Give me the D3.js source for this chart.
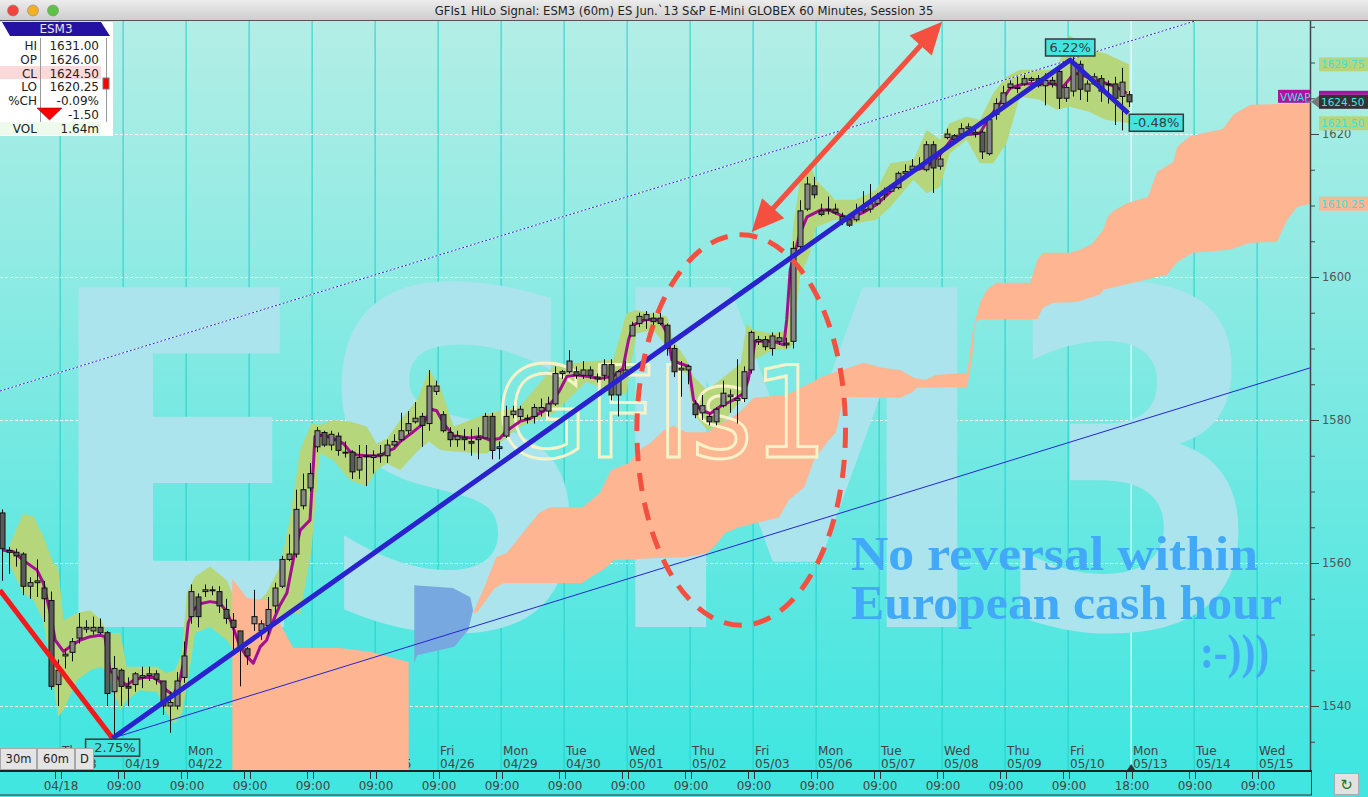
<!DOCTYPE html>
<html><head><meta charset="utf-8">
<script src="https://cdn.jsdelivr.net/npm/d3@7"></script>
<style>
html,body{margin:0;padding:0;background:#fff;overflow:hidden}
svg{display:block;font-family:"DejaVu Sans",sans-serif}
</style></head>
<body><svg id="chart" width="1368" height="797"></svg>
<script>
// ESM3 60 minute bars, 9 bars per session (09:00 - 18:00)
const ohlc = [
[1567,1567.5,1557.5,1562],[1561.75,1562.25,1558.5,1561.5],[1561.5,1562,1559.5,1561],[1561.25,1561.5,1555.5,1556.75],
[1556.75,1558,1555,1557.25],[1557.25,1560.5,1555.25,1557.5],[1556.5,1557.5,1551.75,1555],[1554.75,1556,1542.25,1542.75],
[1543,1546.5,1540,1545],[1547,1548,1545.25,1547.25],[1547.5,1549.5,1546.25,1549],[1549.5,1553,1548.75,1551],
[1550.75,1552,1550.25,1551],[1550.5,1552.5,1550,1551],[1551,1552.25,1550,1550.25],[1550.25,1550.5,1540,1541.75],
[1542,1547,1535.5,1545.25],[1545,1545.25,1540,1542.75],[1542.75,1544,1540,1542.5],[1543,1544.75,1542,1544.5],
[1544,1545.5,1542.5,1544.25],[1544.25,1545.5,1543.5,1544.5],[1544.5,1545,1543,1543.75],[1543.5,1543.5,1538.75,1540],
[1540,1542,1536.25,1540.5],[1540,1544.75,1539.5,1543.5],[1544,1549,1543.25,1547],[1552.5,1557,1551.5,1556],
[1555.25,1555.75,1551,1552.5],[1556,1557,1555.25,1556.25],[1556.25,1556.75,1555.5,1556.25],[1556,1556.75,1553,1554],
[1553.5,1555,1551.5,1552.25],[1552,1553,1547.75,1551],[1550.5,1550.5,1542.75,1548],[1548,1548.25,1545.75,1547],
[1551.5,1556.25,1550.5,1552.5],[1550.5,1552,1549.25,1551.5],[1551.25,1555.25,1550,1553.5],[1554,1557.25,1553,1556.5],
[1556.75,1561,1556.5,1560.5],[1560.5,1564,1560.25,1561.25],[1561.25,1570.25,1560.75,1567.5],[1568,1572.5,1567.5,1570.25],
[1570.5,1574,1570,1572.5],[1576.25,1579,1575.5,1578.5],[1578.25,1578.5,1576.25,1576.5],[1576.5,1578.5,1575.75,1578],
[1577.75,1578.25,1575,1575.75],[1575.5,1577,1574.75,1575.5],[1575.5,1575.75,1571.75,1572.75],[1573,1576.5,1571.75,1574.75],
[1575,1576.5,1570.75,1575],[1574.75,1575.75,1572.5,1575],[1575,1576.5,1574,1575.25],[1575,1577.25,1574,1576.5],
[1576.5,1578,1576.25,1577],[1577.25,1581,1577,1578.5],[1578.5,1581.25,1578,1579.5],[1579.75,1582.5,1579.5,1580.25],
[1580.5,1581,1576.25,1579.25],[1579.5,1587,1578.5,1584.75],[1584,1585.5,1583.5,1584.75],[1580.75,1581.25,1578.25,1578.5],
[1578.25,1579,1576.25,1577.25],[1577.25,1578.5,1576.25,1577.75],[1577.5,1578.75,1575.75,1577.25],[1577,1578.75,1575,1576.75],
[1577.25,1579,1574.5,1577.5],[1577.5,1581,1577.5,1580.5],[1580.5,1581,1574.5,1575.75],[1576,1577,1574.5,1576.25],
[1577.75,1582,1577.5,1580.5],[1580.75,1582,1580.25,1581.25],[1580.5,1582,1580,1581.5],[1580.25,1580.75,1579.5,1580.25],
[1580.5,1582.25,1579.5,1581.75],[1581.25,1583,1580.5,1581.75],[1581.25,1583.25,1580.5,1582.25],[1582.25,1587.5,1582,1586.5],
[1586.5,1587,1585.75,1586.75],[1586.75,1589.75,1586.5,1588.25],[1586.75,1587.5,1585.75,1586.25],[1586.25,1588.25,1585.75,1587],
[1587,1587.5,1585.75,1586.25],[1586,1586.5,1585.25,1585.75],[1586.25,1588.5,1585.5,1587.75],[1587.75,1588.5,1582.75,1583.5],
[1583.5,1587,1580.5,1586.75],[1586.5,1588.25,1586,1587],[1591.75,1593.75,1591.75,1593.25],[1593.5,1595,1593,1594.5],
[1594,1595.25,1592.75,1594.75],[1594.25,1595,1592.75,1593.75],[1594.25,1595,1593.25,1593.5],[1593.25,1593.5,1589,1590],
[1590,1590.5,1586,1586.75],[1587,1588.25,1583.25,1587.25],[1587,1587.75,1585,1587.5],[1582.25,1582.75,1580.25,1580.75],
[1581,1583.5,1580,1582],[1580.5,1581,1579.25,1579.75],[1579.75,1581.75,1579.25,1581.5],[1582,1585.5,1581.75,1583.75],
[1583.25,1584.25,1581,1583.5],[1582.75,1588.5,1579.5,1583],[1583,1587.5,1582.5,1586.75],[1587,1592.5,1586.5,1592.25],
[1591,1591.75,1590.5,1591.25],[1591.25,1591.75,1589.75,1590.25],[1590,1592.25,1589,1591.75],[1591,1592.25,1590.5,1591.5],
[1590.75,1591.5,1590,1590.5],[1591,1605,1590,1604],[1604.25,1610.75,1604,1609.25],[1609.5,1614,1609.25,1613],
[1612.75,1614,1611,1611.5],[1609.25,1610.25,1608.5,1608.75],[1609.5,1611.25,1608.75,1609.5],[1609.5,1610.25,1608.75,1609],
[1608.5,1609,1607.25,1608],[1608,1608.5,1607,1607.25],[1608,1610.25,1607.75,1609],[1609.25,1612,1609,1609.5],
[1609.5,1613,1609,1610.25],[1610.25,1611.75,1610,1611],[1611.5,1612.5,1610.75,1612],[1612,1612.75,1612,1612.5],
[1612.5,1614.75,1612.25,1614.5],[1614.5,1615.75,1614,1614.75],[1615,1616.5,1614.75,1615.5],[1615.25,1616.75,1615,1615.5],
[1615,1619,1614.75,1618.5],[1618.5,1619,1611.75,1615.25],[1615.5,1617,1615,1616.5],[1619.5,1620.75,1619.25,1620],
[1619.75,1620,1619,1619.25],[1620,1621.5,1619.75,1620.75],[1620.75,1621.5,1620.5,1621],[1620.25,1620.75,1619.5,1620],
[1620.25,1620.5,1616.5,1617.5],[1617.25,1622.5,1617,1622],[1622.75,1625,1622,1624.25],[1624.25,1626.75,1623.75,1625.75],
[1626.5,1627.5,1626.25,1627],[1626.5,1628,1625.75,1626.5],[1627,1628.25,1626.75,1627.75],[1627.5,1628,1627.25,1627.75],
[1627.75,1628.25,1626.5,1626.75],[1626.75,1628.5,1624,1627.5],[1627.5,1628,1626.5,1627],[1628.75,1629,1623.5,1625],
[1625,1627,1624.5,1626.5],[1626,1630.75,1625.25,1630],[1629.75,1630.25,1624.75,1626.25],[1626,1627.5,1624.5,1627],
[1627,1628.5,1626.75,1628],[1627.75,1628.25,1624.5,1626],[1627,1627.5,1624.25,1627],[1627,1628,1621.25,1625],
[1625.25,1629.25,1620.5,1627.25],[1625.5,1626,1623.75,1624.5]
];

// magenta average line  [bar, price]
const avgLine = [
[0,1561.8],[1.6,1561.6],[3,1560.4],[5,1559],[5.9,1557.2],[6.9,1553],[7.6,1549.2],[8.8,1547.6],[9.7,1548.3],[11.1,1549.2],
[12.6,1549.7],[14,1549.9],[14.7,1549.7],[15.4,1545],[16.9,1543.6],[17.8,1542.9],[18.8,1543.6],[20.2,1544],[21.6,1544],
[22.6,1543.4],[23.5,1542.2],[24.5,1541.5],[25.4,1543.6],[26.1,1546.9],[26.6,1551.6],[27.3,1553.4],[28.3,1554.3],[29.7,1554.6],
[31.1,1554.4],[32.1,1553.2],[32.8,1551.6],[34,1548.3],[35,1546.9],[35.9,1546],[36.9,1548.3],[37.8,1549.2],[38.8,1552],
[39.7,1554.1],[40.7,1555.8],[41.6,1560.4],[42.6,1564.6],[44,1566],[44.5,1573.9],[44.7,1577.7],[45.9,1577.9],[47.3,1577.4],
[48.8,1576.7],[49.7,1575.6],[50.7,1575.1],[52.1,1575],[54,1575],[55,1575.6],[56,1576],[56.9,1577],[58.8,1578.4],[60.2,1579.5],
[61.4,1581.5],[62.1,1581.3],[63.1,1579.5],[64.5,1577.8],[66.9,1577.5],[68.3,1577.7],[69.7,1577.2],[71.1,1577.4],[72.1,1578.5],
[74,1579.8],[75.4,1580.2],[77.3,1581.2],[78.8,1582.8],[79.7,1584.2],[80.7,1586.1],[82.1,1586.3],[83.5,1586.1],[85.4,1585.8],
[87.3,1586.1],[88.7,1587.2],[89.5,1591.2],[90.2,1593.3],[92.1,1594.1],[94,1594],[95,1592.1],[95.7,1588.4],[96.9,1587.9],
[98.1,1587.5],[98.8,1582.8],[99.8,1581.4],[101.2,1580.9],[102.6,1581.9],[104.5,1582.8],[105.9,1583.7],[106.6,1585.6],
[107.6,1591],[108.8,1591],[110.2,1591],[111.7,1590.5],[112.1,1594],[112.6,1601],[114,1606.1],[115,1608.4],[117,1609.4],
[118.3,1609.3],[119.7,1608.7],[121.1,1608.2],[123,1609],[124.9,1610.1],[126.9,1611.9],[128.8,1614],[130.7,1615],[132.1,1615.4],
[134,1617.1],[135.9,1619.6],[137.8,1619.9],[139.7,1620.1],[141.1,1622.4],[142.6,1624.3],[144,1626.4],[145.9,1627],[148.3,1627.1],
[150.2,1627],[151.6,1626.6],[153,1628.3],[153.9,1628.5],[155.3,1627.8],[157.2,1627.3],[159.1,1626.6],[160.7,1625.7]
];

// green envelope  [bar, upper, lower]
const envelope = [
[1,1562.3,1560],[3,1566.9,1555.8],[4.5,1566.5,1554.8],[5.9,1563.7,1552],[7.3,1560,1543.6],[8,1559.5,1538.5],[8.8,1552,1539.4],
[10.7,1553,1543.6],[12.6,1553.4,1545],[14.2,1552,1545.5],[15,1550.2,1544.6],[16.9,1550.2,1539.4],[17.8,1545.5,1540.8],
[19.7,1545.5,1542.2],[22.1,1545.5,1542],[23.5,1544.6,1539],[24.7,1545,1537.6],[25.7,1547.4,1539],[26.4,1555.8,1542.7],
[27.6,1558.1,1550.2],[29.7,1559.5,1551.1],[32.1,1557.6,1549.2],[33.1,1555.3,1547.8],[35,1553,1545.5],[37.8,1555.8,1547.4],
[39.7,1559.5,1552],[41.1,1566,1553],[42.6,1575.8,1553],[44.2,1579.5,1561.8],[45.4,1579.3,1575.3],[47.3,1580,1574.4],
[49.7,1579.8,1571.6],[52.1,1579.1,1570.7],[53.5,1576.7,1573],[55,1577.4,1573.9],[56.9,1580,1573],[59.3,1582.8,1575.6],
[61,1587,1577],[62.6,1584.7,1575.8],[64.5,1579.1,1575.6],[69.3,1580.9,1575.3],[74,1581.9,1579.1],[78.8,1587.5,1580.9],
[83.5,1588.2,1585.4],[87.3,1588.4,1583.7],[89.2,1594.9,1583.7],[90.6,1595.4,1592.1],[93,1594.9,1592.6],[95,1594.5,1590.3],
[95.9,1591.2,1587.5],[97.8,1588.4,1586.5],[98.8,1586.1,1580.9],[100.7,1584.2,1578.6],[102.6,1585.6,1579.1],[105.5,1587.9,1582.8],
[106.4,1593.5,1583.7],[107.3,1592.6,1588.4],[110.2,1592.1,1589.8],[112.1,1592.6,1589.8],[113,1607,1590.5],[114,1613.5,1600],
[115.4,1615.9,1603.3],[116.3,1613.6,1607],[119,1610.8,1608],[121.9,1610.8,1607.5],[124.9,1612.2,1608],[126.9,1615.9,1609.8],
[130.2,1616.4,1613.6],[132.1,1620.6,1611.7],[134,1619.2,1612.6],[135.4,1621.5,1617.3],[137.8,1622.4,1619.2],[139.7,1622,1615.9],
[141.6,1625.7,1615.9],[143.5,1628,1618.7],[145.4,1629,1625.2],[148.3,1629,1624.8],[150.6,1629,1623.4],[152.5,1633.8,1623.8],
[155.3,1631.7,1623.1],[157.6,1631.3,1622],[161,1629.75,1621.5]
];

// cloud edges  [bar, price]
const cloudTop = [
[67.3,1553],[68.9,1556.6],[70.6,1560.8],[72.1,1561.4],[76.7,1567],[78.3,1567.8],[82.9,1567.8],[85.4,1569.8],[87,1573],
[89.6,1574],[91,1575.8],[92.6,1576.8],[94.6,1578.6],[95.9,1579.2],[97.7,1578.3],[100.7,1578.3],[105.3,1581],[107.4,1583.1],
[112,1583.5],[115.6,1585.2],[117,1586],[123.1,1588],[125.7,1587.3],[128.3,1587],[130.3,1585.9],[131.9,1585.6],[133.4,1586.3],
[137.9,1586.6],[138.7,1592.6],[139.7,1596.4],[140.7,1598.2],[142.1,1599.2],[146.9,1599.2],[147.9,1602.4],[148.7,1603.4],
[152.6,1603.4],[154,1603.8],[155.7,1604.6],[157.3,1606.6],[157.9,1608.3],[158.7,1609.2],[160.7,1610.3],[163.7,1611.2],
[165,1614.7],[167.3,1616.1],[167.9,1618.2],[169.7,1619.7],[171.6,1620.1],[174.4,1620.7],[175.9,1622.7],[178.3,1624.1],[186.9,1624.3]
];
const cloudBottom = [
[67.3,1553],[67.9,1553.1],[70.4,1556.5],[71.7,1557.2],[82.9,1557.2],[83.4,1557.6],[86.4,1559.4],[87.4,1560.4],[93.6,1560.7],
[97.7,1560.8],[100.7,1561.4],[101.7,1562.2],[103.3,1564.2],[105.3,1565],[111,1566.4],[112.4,1568.8],[114.6,1570.6],[116,1574.4],
[118.1,1577.2],[119.1,1578.2],[119.9,1581.8],[120.6,1583.2],[128.3,1583.1],[129.9,1583.8],[130.7,1584.5],[137.9,1584.6],
[138.6,1588.8],[139,1593.6],[139.7,1594.1],[147.9,1594.1],[148.7,1595.7],[150.1,1596.4],[153.6,1596.5],[156.9,1597.6],
[157.3,1598.2],[166.4,1600.3],[167.9,1602.1],[170.1,1603.4],[175.4,1603.8],[178.3,1604.8],[182.1,1604.9],[183.6,1608],
[185,1609.8],[186.9,1610.25]
];
const earlyCloudTop = [[32.9,1557.8],[35,1555.1],[37.9,1554.8],[41.6,1548.1],[48.3,1548.1],[52.6,1547.6],[57.9,1546.2],[58.1,1546.2]];
const earlyCloudBottom = [[32.9,1525],[58.1,1525]];
const twistTop = [[58.9,1556.9],[64.4,1556.5],[66.9,1555.2],[67.3,1553.4]];
const twistBottom = [[58.9,1546],[59.3,1547.1],[64.6,1548.3],[66.6,1550.6],[67.3,1553.4]];

// drawn trend lines  [bar, price]
const redLeg = [[-0.3,1556.2],[15.8,1535.5]];
const blueLegs = [[15.8,1535.5],[152.6,1630.35],[160.9,1622.9]];
const lowerChannel = [[15.8,1535.5],[186.9,1587.3]];
const upperChannel = [[-0.3,1584.05],[186.9,1640.8]];
const moveArrow = [[107.1,1606.3],[134.3,1635.7]];
const pivots = [
  {bar:15.8, price:1535.5, text:"-2.75%", side:"below"},
  {bar:152.6, price:1630.35, text:"6.22%", side:"above"},
  {bar:160.9, price:1622.9, text:"-0.48%", side:"right"}
];
const circled = {bar:105.6, price:1578.6, barRadius:14.9, priceRadius:27.3};

// time axis
const sessionDates = ["04/18","04/19","04/22","04/23","04/24","04/25","04/26","04/29","04/30","05/01","05/02","05/03","05/06","05/07","05/08","05/09","05/10","05/13","05/14","05/15"];
const dayNames = ["Thu","Fri","Mon","Tue","Wed","Thu","Fri","Mon","Tue","Wed","Thu","Fri","Mon","Tue","Wed","Thu","Fri","Mon","Tue","Wed"];
const timeLabels = ["04/18","09:00","09:00","09:00","09:00","09:00","09:00","09:00","09:00","09:00","09:00","09:00","09:00","09:00","09:00","09:00","09:00","18:00","09:00","09:00"];
const barsPerDay = 9, firstSessionBar = 9, cursorDay = 17;

const priceTicks = [1540,1560,1580,1600,1620];
const priceTags = [
  {v:1629.75, bg:"#b6d67c", fg:"#3fe0dc"},
  {v:1610.25, bg:"#fdb592", fg:"#3fe0dc"},
  {v:1621.50, bg:"#b6d67c", fg:"#3fe0dc"},
  {v:1624.50, bg:"#333333", fg:"#3fe8e4"}
];
const vwap = 1625.9;

const infoLabels = ["HI","OP","CL","LO","%CH","","VOL"];
const infoValues = ["1631.00","1626.00","1624.50","1620.25","-0.09%","-1.50","1.64m"];
const note = ["No reversal within","European cash hour",":-)))"];
const title = "GFIs1 HiLo Signal: ESM3 (60m) ES Jun.`13 S&P E-Mini GLOBEX 60 Minutes, Session 35";

const svg = d3.select("#chart");
const W = 1368, H = 797, plotTop = 21, plotBottom = 770, plotRight = 1310;

const x = d3.scaleLinear().domain([0, 187]).range([2, 1311]);
const y = d3.scaleLinear().domain([1540, 1620]).range([706, 134]);
const dayX = d => x(firstSessionBar + d * barsPerDay - 0.7);

const defs = svg.append("defs");
const bg = defs.append("linearGradient").attr("id", "bg").attr("x1", 0).attr("y1", 0).attr("x2", 0).attr("y2", 1);
bg.append("stop").attr("offset", "0%").attr("stop-color", "#b3eee6");
bg.append("stop").attr("offset", "50%").attr("stop-color", "#7be9e2");
bg.append("stop").attr("offset", "100%").attr("stop-color", "#40e6e0");
const tb = defs.append("linearGradient").attr("id", "tb").attr("x1", 0).attr("y1", 0).attr("x2", 0).attr("y2", 1);
tb.append("stop").attr("offset", "0%").attr("stop-color", "#ececec");
tb.append("stop").attr("offset", "100%").attr("stop-color", "#cdcdcd");
defs.append("clipPath").attr("id", "plotclip").append("rect")
  .attr("x", 0).attr("y", plotTop).attr("width", plotRight).attr("height", plotBottom - plotTop);

// background
svg.append("rect").attr("x", 0).attr("y", plotTop).attr("width", W).attr("height", plotBottom - plotTop).attr("fill", "url(#bg)");
svg.append("rect").attr("x", 0).attr("y", plotBottom).attr("width", W).attr("height", H - plotBottom).attr("fill", "#42e6e0");

const plot = svg.append("g").attr("clip-path", "url(#plotclip)");

// day grid
plot.selectAll("line.day").data(sessionDates).enter().append("line")
  .attr("x1", (d, i) => dayX(i)).attr("x2", (d, i) => dayX(i))
  .attr("y1", plotTop).attr("y2", plotBottom)
  .attr("stroke", (d, i) => i === cursorDay ? "#ffffff" : "#1fd2cc").attr("stroke-width", 1);

// price grid
plot.selectAll("line.grid").data(priceTicks).enter().append("line")
  .attr("x1", 0).attr("x2", plotRight).attr("y1", d => Math.round(y(d)) + 0.5).attr("y2", d => Math.round(y(d)) + 0.5)
  .attr("stroke", "#ffffff").attr("stroke-dasharray", "3,2");

// date labels
const dl = plot.selectAll("g.dl").data(sessionDates).enter().append("g")
  .attr("transform", (d, i) => `translate(${dayX(i) + 2},0)`)
  .attr("font-size", 12).attr("fill", "#444");
dl.append("text").attr("y", 755).text((d, i) => dayNames[i]);
dl.append("text").attr("y", 768).text(d => d);

// watermark
plot.append("text").attr("x", 42).attr("y", 627)
  .attr("font-size", 466).attr("font-weight", "bold")
  .attr("textLength", 1228).attr("lengthAdjust", "spacingAndGlyphs")
  .attr("fill", "#abe4ec").text("ESM3");

// envelope
plot.append("path").datum(envelope)
  .attr("d", d3.area().x(d => x(d[0])).y0(d => y(d[2])).y1(d => y(d[1])))
  .attr("fill", "#b6d67c");

// cloud
const poly = d3.line().x(d => x(d[0])).y(d => y(d[1]));
const shape = (a, b) => poly(a.concat(b.slice().reverse())) + "Z";
plot.append("path").attr("d", shape(earlyCloudTop, earlyCloudBottom)).attr("fill", "#fdb592");
plot.append("path").attr("d", shape(twistTop, twistBottom)).attr("fill", "#78a8e0");
plot.append("path").attr("d", shape(cloudTop, cloudBottom)).attr("fill", "#fdb592");

// GFIs1 outline
plot.append("text").attr("x", 496).attr("y", 457)
  .attr("font-size", 126).attr("textLength", 332).attr("lengthAdjust", "spacingAndGlyphs")
  .attr("fill", "none").attr("stroke", "#f7f2c8").attr("stroke-width", 3).text("GFIs1");

// channel lines
plot.append("path").attr("d", poly(upperChannel)).attr("stroke", "#ffffff").attr("stroke-width", 1).attr("fill", "none");
plot.append("path").attr("d", poly(upperChannel)).attr("stroke", "#2424e0").attr("stroke-width", 1)
  .attr("stroke-dasharray", "2,2").attr("fill", "none");
plot.append("path").attr("d", poly(lowerChannel)).attr("stroke", "#2424d8").attr("stroke-width", 1).attr("fill", "none");

// average
plot.append("path").attr("d", poly(avgLine)).attr("stroke", "#a3108e").attr("stroke-width", 3)
  .attr("fill", "none").attr("stroke-linejoin", "round");

// candles
const candle = plot.selectAll("g.c").data(ohlc).enter().append("g");
candle.append("line")
  .attr("x1", (d, i) => Math.round(x(i)) + 0.5).attr("x2", (d, i) => Math.round(x(i)) + 0.5)
  .attr("y1", d => y(d[1])).attr("y2", d => y(d[2]))
  .attr("stroke", "#111").attr("stroke-width", 1);
candle.append("rect")
  .attr("x", (d, i) => Math.round(x(i)) - 2)
  .attr("y", d => y(Math.max(d[0], d[3])))
  .attr("width", 5)
  .attr("height", d => Math.max(1, Math.abs(y(d[0]) - y(d[3]))))
  .attr("fill", d => d[3] >= d[0] ? "#858585" : "#5a5a5a")
  .attr("stroke", "#111").attr("stroke-width", 1);

// trend legs
plot.append("path").attr("d", poly(redLeg)).attr("stroke", "#f21a1a").attr("stroke-width", 5).attr("fill", "none");
plot.append("path").attr("d", poly(blueLegs)).attr("stroke", "#2b22cf").attr("stroke-width", 5)
  .attr("fill", "none").attr("stroke-linejoin", "round");

// double arrow
{
  const [a, b] = moveArrow.map(p => [x(p[0]), y(p[1])]);
  const dx = b[0] - a[0], dy = b[1] - a[1], len = Math.hypot(dx, dy);
  const ux = dx / len, uy = dy / len, hl = 32, hw = 15;
  plot.append("line")
    .attr("x1", a[0] + ux * hl * 0.8).attr("y1", a[1] + uy * hl * 0.8)
    .attr("x2", b[0] - ux * hl * 0.8).attr("y2", b[1] - uy * hl * 0.8)
    .attr("stroke", "#f5503f").attr("stroke-width", 5);
  const head = (tip, dir) => {
    const bx = tip[0] - dir[0] * hl, by = tip[1] - dir[1] * hl;
    return [[tip[0], tip[1]], [bx - dir[1] * hw, by + dir[0] * hw], [bx + dir[1] * hw, by - dir[0] * hw]];
  };
  plot.selectAll("polygon.ah").data([head(b, [ux, uy]), head(a, [-ux, -uy])]).enter().append("polygon")
    .attr("points", d => d.map(p => p.join(",")).join(" ")).attr("fill", "#f5503f");
}

// dashed ellipse
plot.append("ellipse")
  .attr("cx", x(circled.bar)).attr("cy", y(circled.price))
  .attr("rx", x(circled.bar + circled.barRadius) - x(circled.bar))
  .attr("ry", y(circled.price - circled.priceRadius) - y(circled.price))
  .attr("fill", "none").attr("stroke", "#f5503f").attr("stroke-width", 5).attr("stroke-dasharray", "18,12");

// pivot labels
pivots.forEach(p => {
  const px = x(p.bar), py = y(p.price);
  const g = plot.append("g");
  const t = g.append("text").attr("font-size", 13).attr("fill", "#3a3a3a").text(p.text);
  const w = t.node().getComputedTextLength() + 8, h = 17;
  let bx = px - w / 2, by = py + 1;
  if (p.side === "above") by = py - 4 - h;
  if (p.side === "right") { bx = px + 1; by = py + 1; }
  g.insert("rect", "text").attr("x", bx).attr("y", by).attr("width", w).attr("height", h)
    .attr("fill", "#44e4e0").attr("stroke", "#3a3a3a").attr("stroke-width", 1.5);
  t.attr("x", bx + 4).attr("y", by + 13);
});

// note
const nt = plot.append("g").attr("font-family", "'Liberation Serif', serif").attr("font-weight", "bold")
  .attr("font-size", 49).attr("fill", "#42a8f8");
nt.append("text").attr("x", 851).attr("y", 570).attr("textLength", 407).attr("lengthAdjust", "spacingAndGlyphs").text(note[0]);
nt.append("text").attr("x", 851).attr("y", 619).attr("textLength", 431).attr("lengthAdjust", "spacingAndGlyphs").text(note[1]);
nt.append("text").attr("x", 1200).attr("y", 668).attr("textLength", 69).attr("lengthAdjust", "spacingAndGlyphs").text(note[2]);

// title bar
svg.append("rect").attr("x", 0).attr("y", 0).attr("width", W).attr("height", plotTop).attr("fill", "url(#tb)");
svg.append("line").attr("x1", 0).attr("x2", W).attr("y1", plotTop - 0.5).attr("y2", plotTop - 0.5).attr("stroke", "#555");
svg.selectAll("circle.tl").data(["#f0443c", "#f2b024", "#5ec244"]).enter().append("circle")
  .attr("cx", (d, i) => 13 + i * 20).attr("cy", 10.5).attr("r", 5.5)
  .attr("fill", d => d).attr("stroke", "#888").attr("stroke-width", 0.6);
svg.append("text").attr("x", 684).attr("y", 15).attr("text-anchor", "middle")
  .attr("font-size", 11.6).attr("fill", "#222").text(title);

// info box
const info = svg.append("g");
info.append("rect").attr("x", 0).attr("y", plotTop + 1).attr("width", 113).attr("height", 114).attr("fill", "#fff");
info.append("polygon").attr("points", "2,22 101,22 110,36 10,36").attr("fill", "#2612a2");
info.append("text").attr("x", 56).attr("y", 33).attr("text-anchor", "middle").attr("font-size", 12).attr("fill", "#e6e6e6").text("ESM3");
info.append("rect").attr("x", 0).attr("y", 66).attr("width", 101).attr("height", 13).attr("fill", "#fcd9d9");
info.append("rect").attr("x", 0).attr("y", 122).attr("width", 101).attr("height", 13).attr("fill", "#eefaec");
info.append("line").attr("x1", 40.5).attr("x2", 40.5).attr("y1", 38).attr("y2", 122).attr("stroke", "#999");
info.append("line").attr("x1", 106.5).attr("x2", 106.5).attr("y1", 38).attr("y2", 122).attr("stroke", "#999");
info.append("rect").attr("x", 103).attr("y", 78).attr("width", 6).attr("height", 11).attr("fill", "#f00").attr("stroke", "#777");
info.append("polygon").attr("points", "37,108 62,108 49.5,120").attr("fill", "#f00").attr("stroke", "#600").attr("stroke-width", 0.5);
info.selectAll("text.l").data(infoLabels).enter().append("text")
  .attr("x", 37).attr("y", (d, i) => 50 + i * 13.8).attr("text-anchor", "end")
  .attr("font-size", 12).attr("fill", "#222").text(d => d);
info.selectAll("text.v").data(infoValues).enter().append("text")
  .attr("x", 99).attr("y", (d, i) => 50 + i * 13.8).attr("text-anchor", "end")
  .attr("font-size", 12).attr("fill", "#222").text(d => d);

// interval buttons
const btn = svg.selectAll("g.b").data([["30m", 0, 36], ["60m", 37, 37], ["D", 75, 18]]).enter().append("g");
btn.append("rect").attr("x", d => d[1] + 0.5).attr("y", 748.5).attr("width", d => d[2]).attr("height", 21)
  .attr("fill", "#e4e4e4").attr("stroke", "#a8a8a8");
btn.append("text").attr("x", d => d[1] + d[2] / 2 + 0.5).attr("y", 763).attr("text-anchor", "middle")
  .attr("font-size", 11.5).attr("fill", "#222").text(d => d[0]);

// price axis
const axis = svg.append("g").attr("transform", `translate(${plotRight},0)`);
axis.append("line").attr("x1", 0.5).attr("x2", 0.5).attr("y1", plotTop).attr("y2", plotBottom).attr("stroke", "#444").attr("stroke-width", 1.5);
axis.append("g").call(d3.axisRight(y).tickValues(d3.range(1535, 1640, 5).filter(v => v % 20 !== 0)).tickSize(5).tickFormat(""))
  .call(g => g.select(".domain").remove()).selectAll("line").attr("stroke", "#444");
axis.append("g").call(d3.axisRight(y).tickValues(priceTicks).tickSize(9).tickPadding(3).tickFormat(d3.format("d")))
  .call(g => g.select(".domain").remove())
  .call(g => g.selectAll("line").attr("stroke", "#444"))
  .call(g => g.selectAll("text").attr("font-size", 11.5).attr("fill", "#555").attr("font-family", "DejaVu Sans"));

// vwap + price tags
svg.append("rect").attr("x", 1278).attr("y", y(vwap) - 2).attr("width", 32).attr("height", 13).attr("fill", "#b0129c");
svg.append("text").attr("x", 1280).attr("y", y(vwap) + 9).attr("font-size", 10.5).attr("fill", "#3fe0dc").text("VWAP");
svg.append("rect").attr("x", 1319).attr("y", y(vwap) - 1).attr("width", 49).attr("height", 4).attr("fill", "#b0129c");
const tag = svg.selectAll("g.tag").data(priceTags).enter().append("g")
  .attr("transform", d => `translate(1319,${y(d.v)})`);
tag.append("rect").attr("x", 0).attr("y", -7).attr("width", 49).attr("height", 14).attr("fill", d => d.bg);
tag.append("text").attr("x", 2).attr("y", 4).attr("font-size", 10.5).attr("fill", d => d.fg)
  .text(d => d3.format(".2f")(d.v));
svg.append("polygon").attr("points", `1311,${y(1624.5)} 1319,${y(1624.5) - 6} 1319,${y(1624.5) + 6}`).attr("fill", "#777");
svg.append("line").attr("x1", 1305).attr("x2", 1311).attr("y1", y(1624.5)).attr("y2", y(1624.5)).attr("stroke", "#777").attr("stroke-width", 2);

// time axis
const ta = svg.append("g");
ta.append("line").attr("x1", 0).attr("x2", plotRight + 2).attr("y1", plotBottom + 1).attr("y2", plotBottom + 1).attr("stroke", "#222").attr("stroke-width", 2);
ta.append("line").attr("x1", 0).attr("x2", plotRight + 2).attr("y1", 795).attr("y2", 795).attr("stroke", "#333").attr("stroke-width", 1);
ta.append("line").attr("x1", plotRight + 1.5).attr("x2", plotRight + 1.5).attr("y1", plotBottom).attr("y2", 795).attr("stroke", "#333");
const tt = ta.selectAll("g.t").data(timeLabels).enter().append("g")
  .attr("transform", (d, i) => `translate(${Math.round(dayX(i))},0)`);
tt.append("line").attr("x1", -4.5).attr("x2", -4.5).attr("y1", plotBottom + 2).attr("y2", plotBottom + 9).attr("stroke", "#333");
tt.append("line").attr("x1", 1.5).attr("x2", 1.5).attr("y1", plotBottom + 2).attr("y2", plotBottom + 9).attr("stroke", "#333");
tt.append("text").attr("x", 1).attr("y", 790).attr("text-anchor", "middle").attr("font-size", 12).attr("fill", "#444").text(d => d);
svg.append("polygon").attr("points", `${dayX(cursorDay) - 4},${plotBottom} ${dayX(cursorDay) + 4},${plotBottom} ${dayX(cursorDay)},${plotBottom - 6}`).attr("fill", "#333");

// refresh button
svg.append("rect").attr("x", 1334.5).attr("y", 773.5).attr("width", 24).attr("height", 21).attr("fill", "#e2e2e2").attr("stroke", "#aaa");
svg.append("text").attr("x", 1346.5).attr("y", 790).attr("text-anchor", "middle").attr("font-size", 15).attr("fill", "#1c7a1c").text("\u21bb");
</script></body></html>
